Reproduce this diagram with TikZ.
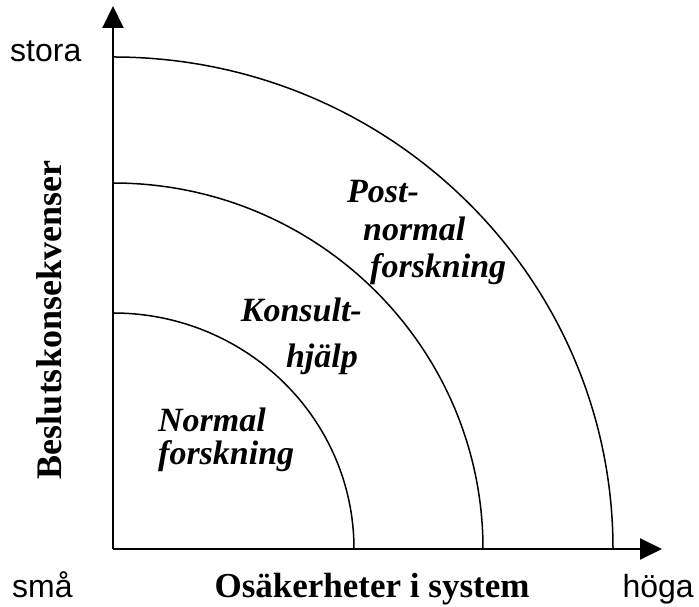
\documentclass[tikz,border=0pt]{standalone}
\usepackage{fontspec}
\setmainfont{Liberation Serif}
\setsansfont{Liberation Sans}
\usetikzlibrary{arrows.meta}

\begin{document}
\begin{tikzpicture}[x=1pt,y=1pt,
    axisline/.style={line width=2pt,-{Triangle[length=22pt,width=21pt]}},
    arcline/.style={line width=1.5pt},
    endlabel/.style={font=\fontsize{32}{36}\selectfont\sffamily,inner sep=0pt},
    axislabel/.style={font=\fontsize{35}{40}\selectfont\bfseries,inner sep=0pt},
    zone/.style={font=\fontsize{34}{38}\selectfont\bfseries\itshape,inner sep=0pt}]
  \useasboundingbox (0,0) rectangle (699,607);

  \coordinate (O) at (113,58);
  \coordinate (ytip) at (113,601);
  \coordinate (xtip) at (662,58);

  % axes
  \draw[axisline] (O) -- (ytip);
  \draw[axisline] (O) -- (xtip);

  % the three zones
  \foreach \rx/\ry in {241/236,370/366,500/492}
  {
    \draw[arcline] (O) ++(0,\ry) arc[start angle=90,end angle=0,x radius=\rx,y radius=\ry];
  }

  \node[endlabel,anchor=base west] (stora) at (10,545) {stora};
  \node[endlabel,anchor=base west] (sma) at (12,9) {små};
  \node[endlabel,anchor=base east] (hoga) at (694,9) {höga};
  \node[axislabel,anchor=base] (xlabel) at (372,9) {Osäkerheter i system};
  \node[axislabel,font=\fontsize{36}{40}\selectfont\bfseries,anchor=base,rotate=90] (ylabel) at (61,287) {Beslutskonsekvenser};

  \node[zone,anchor=base west] (normal1) at (158,175) {Normal};
  \node[zone,anchor=base west] (normal2) at (158,142) {forskning};
  \node[zone,anchor=base east] (konsult1) at (362,285) {Konsult-};
  \node[zone,anchor=base east] (konsult2) at (358,239) {hjälp};
  \node[zone,anchor=base west] (post1) at (347,404) {Post-};
  \node[zone,anchor=base west] (post2) at (363,366) {normal};
  \node[zone,anchor=base west] (post3) at (370,329) {forskning};
\end{tikzpicture}
\end{document}
